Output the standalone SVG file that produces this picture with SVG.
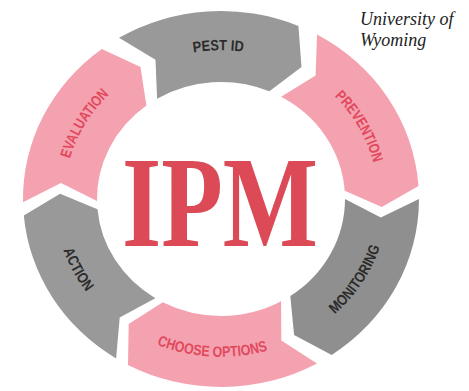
<svg xmlns="http://www.w3.org/2000/svg" width="469" height="391" viewBox="0 0 469 391">
<style>
.pink{fill:#f4a2b0}
.gray{fill:#999999}
.grayd{fill:#8f8f8f}
.lbl{font-family:"Liberation Sans",Arial,sans-serif;font-weight:bold;font-size:15px}
.lr{fill:#e2485c}
.ld{fill:#2b2b2b}
.ipm{font-family:"Liberation Serif","Times New Roman",serif;font-weight:bold;font-size:130px;fill:#dc4a58}
.uw{font-family:"Liberation Serif","Times New Roman",serif;font-style:italic;font-size:18px;fill:#222}
</style>
<defs>
<path id="tp-pest" d="M118.0,86.8 A157,148.7 0 0 1 319.8,83.4"/>
<path id="tp-prev" d="M278.8,60.7 A157,148.7 0 0 1 374.8,228.9"/>
<path id="tp-eval" d="M66.5,225.6 A157,148.7 0 0 1 166.5,59.5"/>
<path id="tp-mon" d="M273.0,348.9 A166.6,157.8 0 0 0 385.9,176.5"/>
<path id="tp-choose" d="M107.0,314.0 A166.6,157.8 0 0 0 320.8,325.4"/>
<path id="tp-action" d="M58.7,163.5 A166.6,157.8 0 0 0 155.9,344.3"/>
</defs>
<rect width="469" height="391" fill="#ffffff"/>
<g id="pest-id">
<path class="gray" d="M119.0,37.8 A198,188 0 0 1 298.4,26.0 L301.5,66.9 L269.4,91.3 A124,117 0 0 0 157.1,98.7 L155.5,59.7 Z"/>
<text class="lbl ld"><textPath href="#tp-pest" startOffset="50%" text-anchor="middle" textLength="50" lengthAdjust="spacingAndGlyphs">PEST ID</textPath></text>
</g>
<g id="prevention">
<path class="pink" d="M317.0,34.6 A198,188 0 0 1 418.5,185.9 L381.8,207.0 L344.7,190.8 A124,117 0 0 0 281.1,96.7 L315.6,75.6 Z"/>
<text class="lbl lr"><textPath href="#tp-prev" startOffset="50%" text-anchor="middle" textLength="78" lengthAdjust="spacingAndGlyphs">PREVENTION</textPath></text>
</g>
<g id="monitoring">
<path class="grayd" d="M419.0,199.0 A198,188 0 0 1 331.7,354.9 L294.1,334.9 L290.3,296.0 A124,117 0 0 0 345.0,199.0 L380.8,217.6 Z"/>
<text class="lbl ld"><textPath href="#tp-mon" startOffset="50%" text-anchor="middle" textLength="82" lengthAdjust="spacingAndGlyphs">MONITORING</textPath></text>
</g>
<g id="choose-options">
<path class="pink" d="M317.0,363.4 A198,188 0 0 1 128.0,365.0 L128.7,323.9 L162.8,302.3 A124,117 0 0 0 281.1,301.3 L281.3,340.4 Z"/>
<text class="lbl lr"><textPath href="#tp-choose" startOffset="50%" text-anchor="middle" textLength="113" lengthAdjust="spacingAndGlyphs">CHOOSE OPTIONS</textPath></text>
</g>
<g id="action">
<path class="gray" d="M116.1,358.4 A198,188 0 0 1 23.8,215.4 L60.1,193.7 L97.5,209.2 A124,117 0 0 0 155.3,298.2 L119.7,317.5 Z"/>
<text class="lbl ld"><textPath href="#tp-action" startOffset="50%" text-anchor="middle" textLength="48" lengthAdjust="spacingAndGlyphs">ACTION</textPath></text>
</g>
<g id="evaluation">
<path class="pink" d="M23.0,202.3 A198,188 0 0 1 101.8,48.9 L140.5,66.9 L146.4,105.6 A124,117 0 0 0 97.0,201.0 L60.9,183.1 Z"/>
<text class="lbl lr"><textPath href="#tp-eval" startOffset="50%" text-anchor="middle" textLength="76" lengthAdjust="spacingAndGlyphs">EVALUATION</textPath></text>
</g>
<g id="ipm">
<text class="ipm" transform="translate(122,246) scale(0.7756,1)" x="0" y="0">IPM</text>
</g>
<g id="credit">
<text class="uw" x="360" y="25">University of</text>
<text class="uw" x="360" y="46">Wyoming</text>
</g>
<g id="connectors"/>
</svg>
